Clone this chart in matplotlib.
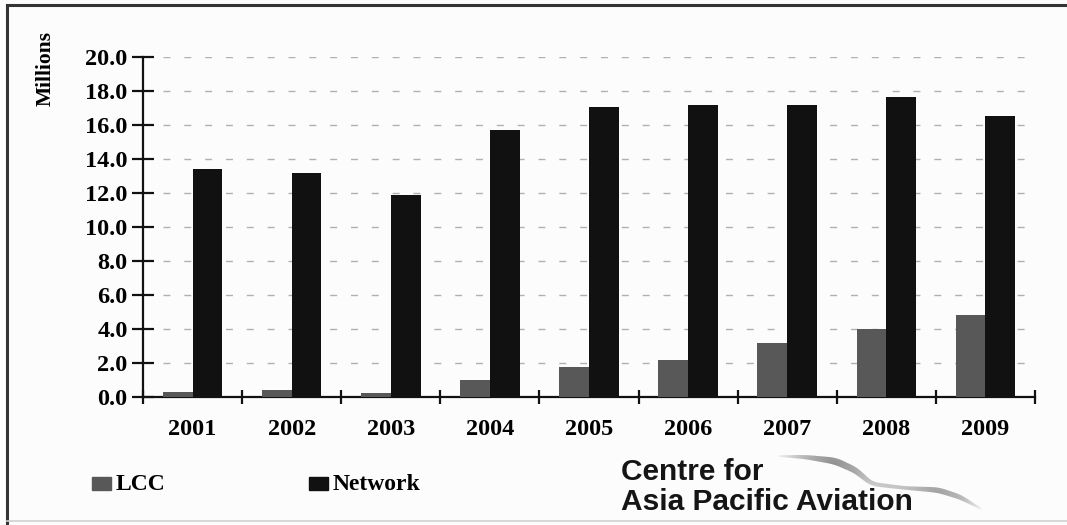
import matplotlib
matplotlib.use("Agg")
import matplotlib.pyplot as plt
import numpy as np
from matplotlib.lines import Line2D
from matplotlib.patches import Rectangle
from matplotlib.collections import LineCollection

# Passengers (millions) by year and carrier type
years = ["2001", "2002", "2003", "2004", "2005", "2006", "2007", "2008", "2009"]
lcc = [0.3, 0.4, 0.25, 1.0, 1.75, 2.2, 3.2, 4.0, 4.8]
network = [13.4, 13.2, 11.9, 15.7, 17.05, 17.2, 17.2, 17.65, 16.55]
y_ticks = [0, 2, 4, 6, 8, 10, 12, 14, 16, 18, 20]
series_names = ["LCC", "Network"]

LCC_COLOR = "#585858"
NET_COLOR = "#111111"
SERIF = ["Liberation Serif", "DejaVu Serif"]

W, H, DPI = 1067, 525, 100
fig = plt.figure(figsize=(W / DPI, H / DPI), dpi=DPI)
fig.patch.set_facecolor("#fcfcfc")

def fx(px):
    return px / W

def fy(py):
    return 1 - py / H

ax = fig.add_axes([fx(143), fy(397), fx(1035) - fx(143), fy(57) - fy(397)])
ax.set_facecolor("none")

x = np.arange(len(years))
bw = 0.3
ax.bar(x - bw / 2, lcc, width=bw, color=LCC_COLOR, zorder=3)
ax.bar(x + bw / 2, network, width=bw, color=NET_COLOR, zorder=3)

ax.set_xlim(-0.5, len(years) - 0.5)
ax.set_ylim(0, 20)

# y axis
ax.set_yticks(y_ticks)
ax.set_yticklabels([f"{v:.1f}" for v in y_ticks], fontfamily=SERIF,
                   fontweight="bold", fontsize=17.5)
ax.tick_params(axis="y", direction="inout", length=16, width=1.6,
               pad=3, color="#111111")

# x axis: ticks at category boundaries, labels at centres
ax.set_xticks(np.arange(-0.5, len(years), 1.0))
ax.set_xticklabels([])
ax.set_xticks(x, minor=True)
ax.set_xticklabels(years, minor=True, fontfamily=SERIF,
                   fontweight="bold", fontsize=17.5)
ax.tick_params(axis="x", which="major", direction="inout", length=10,
               width=1.6, color="#111111")
ax.tick_params(axis="x", which="minor", length=0, pad=16)

for s in ["top", "right"]:
    ax.spines[s].set_visible(False)
for s in ["left", "bottom"]:
    ax.spines[s].set_linewidth(1.6)
    ax.spines[s].set_color("#111111")

# dashed horizontal gridlines
for v in y_ticks[1:]:
    ax.axhline(v, xmin=0.022, xmax=1.0, color="#b0b0b0", lw=1.0,
               dashes=(5, 10), zorder=1)

fig.text(fx(46), fy(31), "Millions", rotation=90, ha="center", va="top",
         fontfamily=SERIF, fontweight="bold", fontsize=15.5)

# legend
legend_items = [(92, LCC_COLOR, series_names[0]), (309, NET_COLOR, series_names[1])]
for px, col, name in legend_items:
    fig.patches.append(Rectangle((fx(px), fy(490)), fx(19), 13 / H,
                                 transform=fig.transFigure, color=col))
    fig.text(fx(px + 24), fy(484), name, ha="left", va="center",
             fontfamily=SERIF, fontweight="bold", fontsize=17)

# logo swoosh: a smooth grey stroke that narrows and fades at both ends
path_x = [777, 805, 835, 855, 872, 905, 938, 960, 983]
path_y = [456, 457, 461, 470, 484, 488, 490, 497, 510]
shade = [0.05, 0.45, 0.75, 0.55, 0.30, 0.35, 0.60, 0.45, 0.03]
width = [1.0, 3.0, 5.0, 4.5, 3.0, 2.5, 4.0, 3.5, 1.0]
t = np.linspace(0, len(path_x) - 1, 400)
k = np.arange(len(path_x))
kernel = np.ones(25) / 25

def smooth(v):
    raw = np.interp(t, k, v)
    padded = np.concatenate([np.full(12, raw[0]), raw, np.full(12, raw[-1])])
    return np.convolve(padded, kernel, mode="valid")

sx, sy, sa, sw = smooth(path_x), smooth(path_y), smooth(shade), smooth(width)
pts = np.column_stack([fx(sx), fy(sy)])
segs = np.stack([pts[:-1], pts[1:]], axis=1)
cols = [(0.3, 0.3, 0.3, a) for a in sa[:-1]]
fig.add_artist(LineCollection(segs, colors=cols, linewidths=sw[:-1],
                              transform=fig.transFigure, capstyle="butt",
                              zorder=1))

# logo text
LOGO_FONT = ["Liberation Sans", "DejaVu Sans"]
fig.text(fx(621), fy(472), "Centre for", ha="left", va="center",
         fontfamily=LOGO_FONT, fontweight="bold", fontsize=21.5, color="#151515")
fig.text(fx(621), fy(502), "Asia Pacific Aviation", ha="left", va="center",
         fontfamily=LOGO_FONT, fontweight="bold", fontsize=21.5, color="#151515")

# outer frame
fig.add_artist(Line2D([fx(7), fx(1067)], [fy(5), fy(5)], transform=fig.transFigure,
                      color="#333333", lw=2.2))
fig.add_artist(Line2D([fx(7), fx(7)], [fy(5), fy(525)], transform=fig.transFigure,
                      color="#333333", lw=2.2))
fig.add_artist(Line2D([fx(7), fx(1067)], [fy(521), fy(521)], transform=fig.transFigure,
                      color="#d0d0d0", lw=1.2))

fig.savefig("out.png", dpi=DPI, facecolor=fig.get_facecolor())
